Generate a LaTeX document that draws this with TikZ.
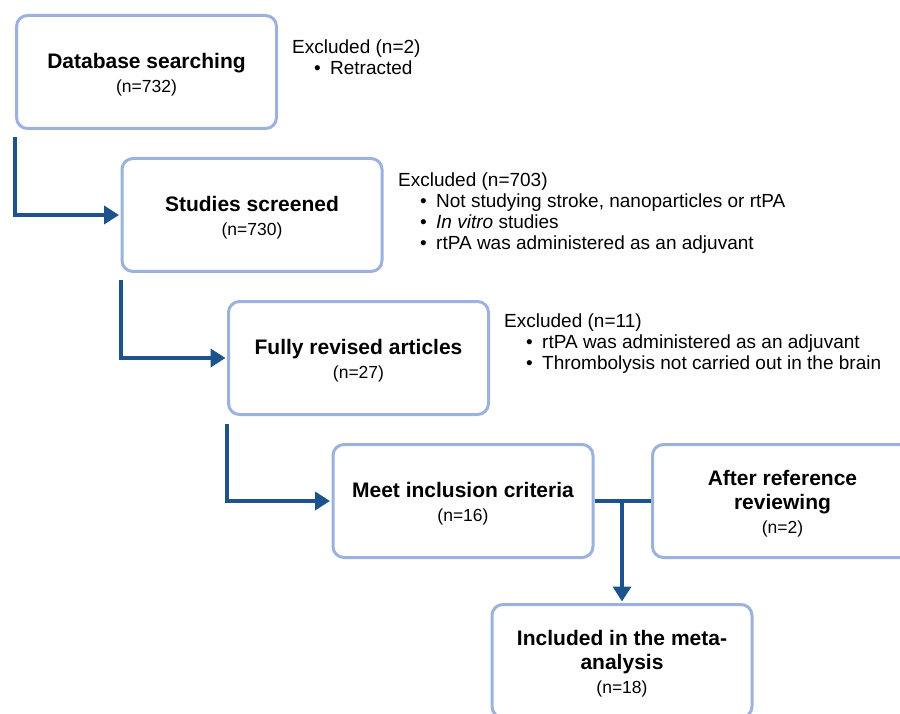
\documentclass[tikz,border=0pt]{standalone}
\usepackage{fontspec}
\setmainfont{Liberation Sans}
\usetikzlibrary{arrows.meta}

\definecolor{boxline}{RGB}{155,178,222}
\definecolor{flowblue}{RGB}{28,83,140}

\newcommand{\exitem}[1]{\hspace*{22pt}\makebox[16pt][l]{\textbullet}#1}
\newcommand{\stagetitle}[1]{{\fontsize{21}{25}\selectfont\bfseries #1}}

\begin{document}
\begin{tikzpicture}[x=1pt, y=-1pt]
		\tikzstyle {stage} = [draw=boxline, line width=3pt, rounded corners=11pt, minimum width=260pt, minimum height=113pt, align=center, inner sep=0pt, font=\fontsize{17.5}{24}\selectfont]
		\tikzstyle {excl} = [anchor=north west, align=left, inner sep=0pt, font=\fontsize{19}{21}\selectfont]
		\tikzstyle {flow} = [draw=flowblue, line width=4pt, -{Triangle[length=15pt, width=18pt]}]

		\useasboundingbox (0,0) rectangle (900,714);

		% stages
		\node[stage] (db) at (146.5, 72) {\rule{0pt}{21pt}\stagetitle{Database searching}\\ (n=732)};
		\node[stage] (screen) at (252, 215) {\rule{0pt}{21pt}\stagetitle{Studies screened}\\ (n=730)};
		\node[stage] (revised) at (358.5, 358) {\rule{0pt}{21pt}\stagetitle{Fully revised articles}\\ (n=27)};
		\node[stage] (incl) at (463, 501) {\rule{0pt}{21pt}\stagetitle{Meet inclusion criteria}\\ (n=16)};
		\node[stage] (refrev) at (782.5, 501) {\rule{0pt}{21pt}\stagetitle{After reference}\\ \stagetitle{reviewing}\\ (n=2)};
		\node[stage] (meta) at (622, 661) {\rule{0pt}{21pt}\stagetitle{Included in the meta-}\\ \stagetitle{analysis}\\ (n=18)};

		% exclusions
		\node[excl] (exdb) at (292, 40) {Excluded (n=2)\\ \exitem{Retracted}};
		\node[excl] (exscreen) at (398, 173) {Excluded (n=703)\\ \exitem{Not studying stroke, nanoparticles or rtPA}\\ \exitem{\textit{In vitro} studies}\\ \exitem{rtPA was administered as an adjuvant}};
		\node[excl] (exrevised) at (504, 314) {Excluded (n=11)\\ \exitem{rtPA was administered as an adjuvant}\\ \exitem{Thrombolysis not carried out in the brain}};

		% flow
		\draw[flow, shorten >=1.5pt] ([yshift=-7.5pt]db.south west) |- (screen.west);
		\draw[flow, shorten >=1.5pt] ([yshift=-7.5pt]screen.south west) |- (revised.west);
		\draw[flow, shorten >=1.5pt] ([yshift=-7.5pt]revised.south west) |- (incl.west);
		\draw[draw=flowblue, line width=4pt] (incl.east) -- (refrev.west);
		\draw[flow, shorten >=1.5pt] (meta.north |- incl.east) -- (meta.north);
\end{tikzpicture}
\end{document}
